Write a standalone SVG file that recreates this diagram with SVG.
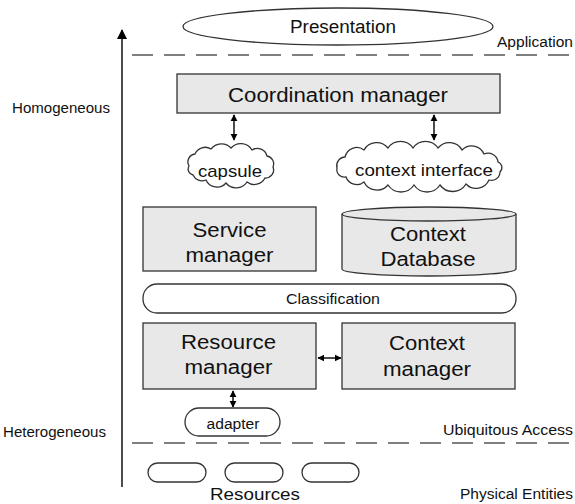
<svg xmlns="http://www.w3.org/2000/svg" width="575" height="504" viewBox="0 0 575 504">
  <style>
    text { font-family: "Liberation Sans", Arial, sans-serif; fill: #111; }
    .box { fill: #e8e8e8; stroke: #333; stroke-width: 1.3; }
    .open { fill: #fff; stroke: #333; stroke-width: 1.3; }
    .big { font-size: 20px; text-anchor: middle; }
    .mid { font-size: 17px; text-anchor: middle; }
    .pres { font-size: 18px; text-anchor: middle; }
    .small { font-size: 14px; }
    .sm { font-size: 14px; text-anchor: middle; }
    .dash { stroke: #000; stroke-width: 1.2; stroke-dasharray: 21 11; fill: none; }
    .conn { stroke: #000; stroke-width: 1.4; fill: none; }
  </style>
  <defs>
    <marker id="ah" viewBox="0 0 10 10" refX="9" refY="5" markerWidth="7" markerHeight="9" markerUnits="userSpaceOnUse" orient="auto-start-reverse">
      <path d="M0,0 L10,5 L0,10 z" fill="#000"/>
    </marker>
    <marker id="axis" viewBox="0 0 10 10" refX="9" refY="5" markerWidth="17" markerHeight="10" markerUnits="userSpaceOnUse" orient="auto">
      <path d="M0,0 L10,5 L0,10 z" fill="#000"/>
    </marker>
  </defs>

  <!-- layer boundaries and side labels -->
  <g id="layers">
    <line class="dash" x1="132" y1="55" x2="575" y2="55"/>
    <line class="dash" x1="132" y1="443" x2="575" y2="443"/>
    <text class="small" x="497" y="47" textLength="76" lengthAdjust="spacingAndGlyphs">Application</text>
    <text class="small" x="443" y="435" textLength="130" lengthAdjust="spacingAndGlyphs">Ubiquitous Access</text>
    <text class="small" x="460" y="499" textLength="113" lengthAdjust="spacingAndGlyphs">Physical Entities</text>
    <text class="small" x="12" y="113" textLength="98" lengthAdjust="spacingAndGlyphs">Homogeneous</text>
    <text class="small" x="3" y="437" textLength="103" lengthAdjust="spacingAndGlyphs">Heterogeneous</text>
  </g>

  <!-- connectors -->
  <g id="connectors">
    <line class="conn" x1="122" y1="487" x2="122" y2="30" marker-end="url(#axis)"/>
    <line class="conn" x1="234" y1="115" x2="234" y2="140" marker-start="url(#ah)" marker-end="url(#ah)"/>
    <line class="conn" x1="434" y1="115" x2="434" y2="140" marker-start="url(#ah)" marker-end="url(#ah)"/>
    <line class="conn" x1="318" y1="358" x2="341" y2="358" marker-start="url(#ah)" marker-end="url(#ah)"/>
    <line class="conn" x1="233" y1="391" x2="233" y2="407" marker-start="url(#ah)" marker-end="url(#ah)"/>
  </g>

  <g id="presentation">
    <ellipse class="open" cx="338" cy="26.5" rx="155" ry="18.5"/>
    <text class="pres" x="343" y="33" textLength="106" lengthAdjust="spacingAndGlyphs">Presentation</text>
  </g>

  <g id="coordination-manager">
    <rect class="box" x="177" y="74" width="323" height="39"/>
    <text class="big" x="338" y="102" textLength="220" lengthAdjust="spacingAndGlyphs">Coordination manager</text>
  </g>

  <g id="capsule">
    <path class="open" d="M189,166 A8,8 0 0 1 195,154 A11,11 0 0 1 211,149 A13,13 0 0 1 231,148 A13,13 0 0 1 252,150 A10,10 0 0 1 267,156 A8,8 0 0 1 273,167 A8,8 0 0 1 265,178 A12,12 0 0 1 247,182 A13,13 0 0 1 226,183 A12,12 0 0 1 206,180 A10,10 0 0 1 193,175 A6,6 0 0 1 189,166 Z"/>
    <text class="mid" x="230" y="177" textLength="64" lengthAdjust="spacingAndGlyphs">capsule</text>
  </g>

  <g id="context-interface">
    <path class="open" d="M337,168 A8.7,8.7 0 0 1 345,157 A12,12 0 0 1 364,150 A14.5,14.5 0 0 1 388,148 A15,15 0 0 1 413,148 A15,15 0 0 1 438,148 A14.5,14.5 0 0 1 462,150 A13.5,13.5 0 0 1 484,154 A10,10 0 0 1 498,162 A6,6 0 0 1 500,172 A8.5,8.5 0 0 1 489,180 A14,14 0 0 1 466,184 A15.6,15.6 0 0 1 440,185 A15.6,15.6 0 0 1 414,185 A15.6,15.6 0 0 1 388,185 A14.5,14.5 0 0 1 364,182 A11.4,11.4 0 0 1 346,177 A7.6,7.6 0 0 1 337,168 Z"/>
    <text class="mid" x="424" y="176" textLength="138" lengthAdjust="spacingAndGlyphs">context interface</text>
  </g>

  <g id="service-manager">
    <rect class="box" x="143" y="207" width="173" height="64"/>
    <text class="big" x="229.5" y="237" textLength="74" lengthAdjust="spacingAndGlyphs">Service</text>
    <text class="big" x="229.5" y="262" textLength="88" lengthAdjust="spacingAndGlyphs">manager</text>
  </g>

  <g id="context-database">
    <path class="box" d="M342,214 L342,269 A87,7 0 0 0 516,269 L516,214 A87,7 0 0 0 342,214 Z"/>
    <path class="box" d="M342,214 A87,7 0 0 0 516,214" fill="none"/>
    <text class="big" x="428" y="241" textLength="76" lengthAdjust="spacingAndGlyphs">Context</text>
    <text class="big" x="428" y="266" textLength="95" lengthAdjust="spacingAndGlyphs">Database</text>
  </g>

  <g id="classification">
    <rect class="open" x="143" y="284" width="373" height="29" rx="14" ry="14"/>
    <text class="sm" x="333" y="304" textLength="94" lengthAdjust="spacingAndGlyphs">Classification</text>
  </g>

  <g id="resource-manager">
    <rect class="box" x="143" y="323" width="173" height="66"/>
    <text class="big" x="228.5" y="349" textLength="95" lengthAdjust="spacingAndGlyphs">Resource</text>
    <text class="big" x="228.5" y="374" textLength="88" lengthAdjust="spacingAndGlyphs">manager</text>
  </g>

  <g id="context-manager">
    <rect class="box" x="342" y="323" width="173" height="66"/>
    <text class="big" x="427" y="350" textLength="76" lengthAdjust="spacingAndGlyphs">Context</text>
    <text class="big" x="427" y="376" textLength="88" lengthAdjust="spacingAndGlyphs">manager</text>
  </g>

  <g id="adapter">
    <rect class="open" x="185" y="408" width="95" height="28" rx="14" ry="14"/>
    <text class="sm" x="233" y="429" textLength="53" lengthAdjust="spacingAndGlyphs">adapter</text>
  </g>

  <g id="resources">
    <rect class="open" x="148" y="463" width="58" height="19" rx="9.5" ry="9.5"/>
    <rect class="open" x="225" y="463" width="58" height="19" rx="9.5" ry="9.5"/>
    <rect class="open" x="302" y="463" width="57" height="19" rx="9.5" ry="9.5"/>
    <text class="mid" x="255" y="500" textLength="90" lengthAdjust="spacingAndGlyphs">Resources</text>
  </g>
</svg>
